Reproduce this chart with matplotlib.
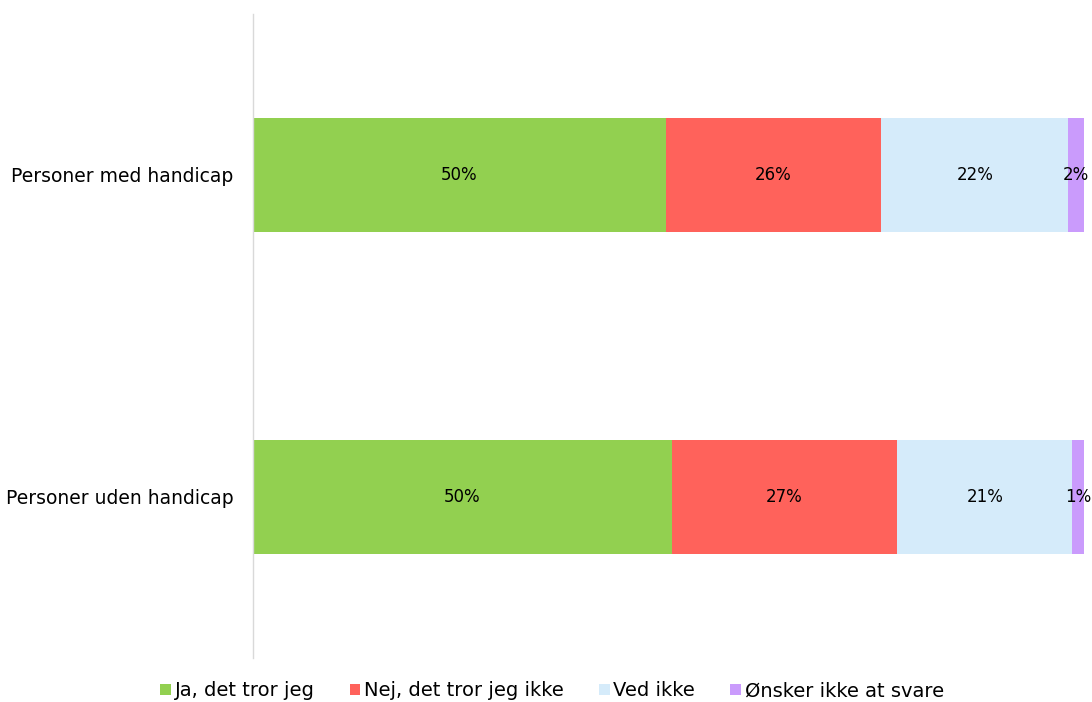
import matplotlib
matplotlib.use("Agg")
import matplotlib.pyplot as plt
import numpy as np

categories = ["Personer med handicap", "Personer uden handicap"]
series_names = ["Ja, det tror jeg", "Nej, det tror jeg ikke", "Ved ikke", "Ønsker ikke at svare"]
values = {
    "Ja, det tror jeg": [49.7, 50.4],
    "Nej, det tror jeg ikke": [25.9, 27.1],
    "Ved ikke": [22.5, 21.1],
    "Ønsker ikke at svare": [1.9, 1.4],
}
labels = {
    "Ja, det tror jeg": ["50%", "50%"],
    "Nej, det tror jeg ikke": ["26%", "27%"],
    "Ved ikke": ["22%", "21%"],
    "Ønsker ikke at svare": ["2%", "1%"],
}
colors = ["#92D050", "#FF625B", "#D5EBFA", "#CA9BFC"]

plt.rcParams['font.family'] = ['DejaVu Sans']
fig = plt.figure(figsize=(10.92, 7.02), dpi=100)
ax = fig.add_axes([253/1092, 1-658/702, 831/1092, 644/702])

y = np.arange(len(categories))
left = np.zeros(len(categories))
for name, c in zip(series_names, colors):
    v = np.array(values[name])
    ax.barh(y, v, left=left, height=0.354, color=c, label=name)
    for i, (b, l) in enumerate(zip(v, labels[name])):
        ax.text(left[i] + b/2, y[i], l, ha="center", va="center", fontsize=12, color="black")
    left += v

ax.set_xlim(0, 100)
ax.set_ylim(1.5, -0.5)
ax.set_yticks(y)
ax.set_yticklabels(categories, fontsize=13.5)
ax.tick_params(axis="y", length=0, pad=14)
ax.set_xticks([])
for s in ["top", "right", "bottom"]:
    ax.spines[s].set_visible(False)
ax.spines["left"].set_color("#D9D9D9")
ax.spines["left"].set_linewidth(1)

fig.legend(loc="center", bbox_to_anchor=(552/1092, 1-691/702), ncol=4, frameon=False,
           fontsize=14, handlelength=0.55, handleheight=0.55, handletextpad=0.2,
           columnspacing=1.8, borderaxespad=0)

fig.savefig("out.png", dpi=100)
